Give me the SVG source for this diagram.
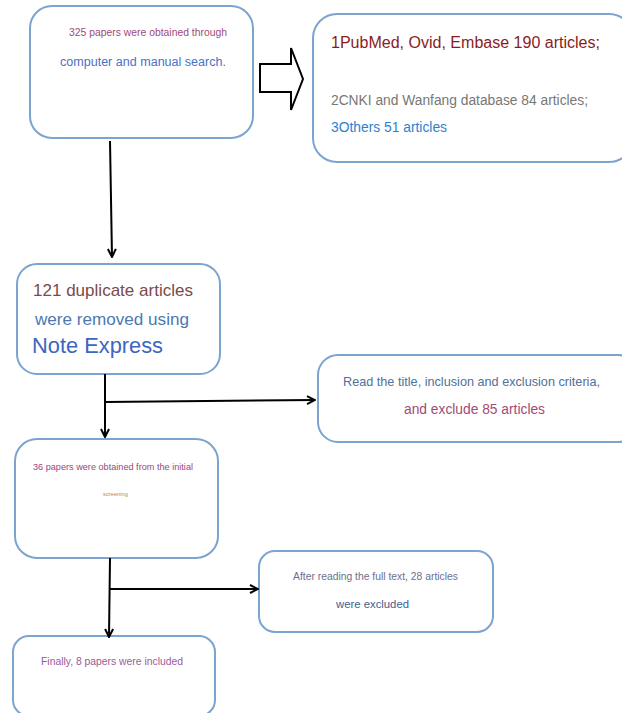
<svg xmlns="http://www.w3.org/2000/svg" width="622" height="713" viewBox="0 0 622 713">
<style>
.box{fill:#ffffff;stroke:#7ba4d0;stroke-width:2}
.t{font-family:"Liberation Sans",Arial,sans-serif}
.ln{fill:none;stroke:#000000;stroke-width:2}
</style>
<defs>
<marker id="ah" viewBox="0 0 10 10" refX="9" refY="5" markerWidth="10" markerHeight="10" markerUnits="userSpaceOnUse" orient="auto">
<path d="M1,1 L9,5 L1,9" fill="none" stroke="#000" stroke-width="2"/>
</marker>
</defs>
<rect width="622" height="713" fill="#ffffff"/>
<g id="n1">
<rect class="box" x="30" y="6" width="223" height="132" rx="22"/>
<text class="t" x="69" y="36" font-size="10.4" fill="#a04a78" textLength="158" lengthAdjust="spacingAndGlyphs">325 papers were obtained through</text>
<text class="t" x="60" y="66" font-size="12.5" fill="#4a72c4" textLength="166" lengthAdjust="spacingAndGlyphs">computer and manual search.</text>
</g>
<g id="n2">
<rect class="box" x="313" y="14" width="320" height="148" rx="24"/>
<text class="t" x="331" y="48" font-size="16" fill="#8b1c1c" textLength="269" lengthAdjust="spacingAndGlyphs">1PubMed, Ovid, Embase 190 articles;</text>
<text class="t" x="331" y="105" font-size="13.8" fill="#777777" textLength="257" lengthAdjust="spacingAndGlyphs">2CNKI and Wanfang database 84 articles;</text>
<text class="t" x="331" y="132" font-size="13.8" fill="#2b82d0" textLength="116" lengthAdjust="spacingAndGlyphs">3Others 51 articles</text>
</g>
<g id="n3">
<rect class="box" x="17" y="264" width="203" height="110" rx="20"/>
<text class="t" x="33" y="296" font-size="17" fill="#7b4a4a" textLength="160" lengthAdjust="spacingAndGlyphs">121 duplicate articles</text>
<text class="t" x="35" y="325" font-size="17" fill="#4d78b0" textLength="154" lengthAdjust="spacingAndGlyphs">were removed using</text>
<text class="t" x="32" y="353" font-size="21.8" fill="#3d66c2" textLength="131" lengthAdjust="spacingAndGlyphs">Note Express</text>
</g>
<g id="n4">
<rect class="box" x="318" y="355" width="320" height="87" rx="20"/>
<text class="t" x="343" y="386" font-size="12.7" fill="#51709a" textLength="257" lengthAdjust="spacingAndGlyphs">Read the title, inclusion and exclusion criteria,</text>
<text class="t" x="404" y="414" font-size="13.8" fill="#a24a76" textLength="141" lengthAdjust="spacingAndGlyphs">and exclude 85 articles</text>
</g>
<g id="n5">
<rect class="box" x="15" y="439" width="203" height="119" rx="22"/>
<text class="t" x="33" y="470" font-size="9" fill="#a0457a" textLength="160" lengthAdjust="spacingAndGlyphs">36 papers were obtained from the initial</text>
<text class="t" x="103" y="496" font-size="5.8" fill="#c0884a" textLength="25" lengthAdjust="spacingAndGlyphs">screening</text>
</g>
<g id="n6">
<rect class="box" x="259" y="551" width="234" height="81" rx="16"/>
<text class="t" x="293" y="580" font-size="10.3" fill="#6e6e8e" textLength="165" lengthAdjust="spacingAndGlyphs">After reading the full text, 28 articles</text>
<text class="t" x="336" y="608" font-size="11.3" fill="#3e5e8e" textLength="73" lengthAdjust="spacingAndGlyphs">were excluded</text>
</g>
<g id="n7">
<rect class="box" x="13" y="636" width="202" height="80" rx="16"/>
<text class="t" x="41" y="665" font-size="10.3" fill="#9a5a9a" textLength="142" lengthAdjust="spacingAndGlyphs">Finally, 8 papers were included</text>
</g>
<g id="connectors">
<path d="M260,64 L291,64 L291,48 L303,79 L291,110 L291,92 L260,92 Z" fill="#ffffff" stroke="#000" stroke-width="2" stroke-linejoin="miter"/>
<path class="ln" d="M110,141 L112,257" marker-end="url(#ah)"/>
<path class="ln" d="M105,374 L105,437" marker-end="url(#ah)"/>
<path class="ln" d="M105,402 L315,400" marker-end="url(#ah)"/>
<path class="ln" d="M110,558 L109,637" marker-end="url(#ah)"/>
<path class="ln" d="M110,589 L258,589" marker-end="url(#ah)"/>
</g>
</svg>
